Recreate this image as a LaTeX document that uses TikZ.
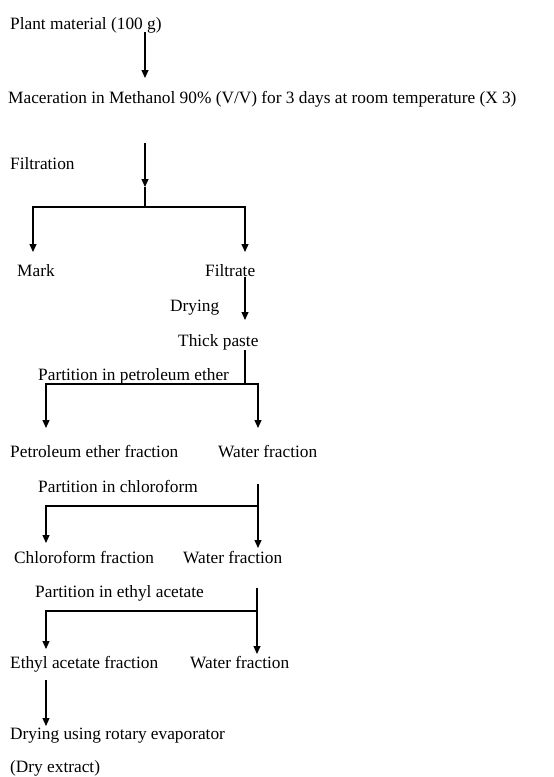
\documentclass[tikz,border=0pt]{standalone}
\usepackage{fontspec}
\setmainfont{Liberation Serif}
\usepackage{tikz}
\usetikzlibrary{positioning, arrows.meta, calc}

\tikzset{
  lbl/.style={anchor=base west, inner sep=0pt, font=\fontsize{17.3}{20}\selectfont},
  flow/.style={line width=1.1pt, -{Triangle[length=8pt,width=7pt]}},
  link/.style={line width=1.1pt}
}

\begin{document}
\begin{tikzpicture}[x=1pt, y=-1pt]
\useasboundingbox (0,0) rectangle (554,777);
% steps
\node[lbl](plant) at (10,29){Plant material (100 g)};
\node[lbl](macer) at (8,103){Maceration in Methanol 90\% (V/V) for 3 days at room temperature (X 3)};
\node[lbl](filtr) at (10,169){Filtration};
\node[lbl](mark) at (17,276){Mark};
\node[lbl](filtrate) at (205,276){Filtrate};
\node[lbl](drying) at (170,311){Drying};
\node[lbl](paste) at (178,346){Thick paste};
\node[lbl](petpart) at (38,380){Partition in petroleum ether};
\node[lbl](petfrac) at (10,457){Petroleum ether fraction};
\node[lbl](water1) at (218,457){Water fraction};
\node[lbl](chlpart) at (38,492){Partition in chloroform};
\node[lbl](chlfrac) at (14,563){Chloroform fraction};
\node[lbl](water2) at (183,563){Water fraction};
\node[lbl](ethpart) at (35,597){Partition in ethyl acetate};
\node[lbl](ethfrac) at (10,668){Ethyl acetate fraction};
\node[lbl](water3) at (190,668){Water fraction};
\node[lbl](rotary) at (10,739){Drying using rotary evaporator};
\node[lbl](dry) at (10,772){(Dry extract)};
% junction points
\coordinate (a1) at (145,32);
\coordinate (a2) at (145,78);
\coordinate (f1) at (145,143);
\coordinate (f2) at (145,187);
\coordinate (fsplit) at (145,207);
\coordinate (markin) at (33,252);
\coordinate (filtin) at (245,252);
\coordinate (d1) at (245,277);
\coordinate (d2) at (245,320);
\coordinate (p1) at (245,350);
\coordinate (psplit) at (245,384);
\coordinate (petin) at (46,428);
\coordinate (w1in) at (258,428);
\coordinate (c1) at (258,484);
\coordinate (csplit) at (258,506);
\coordinate (chlin) at (46,543);
\coordinate (w2in) at (258,548);
\coordinate (e1) at (257,588);
\coordinate (esplit) at (257,611);
\coordinate (ethin) at (46,649);
\coordinate (w3in) at (257,654);
\coordinate (r1) at (46,680);
\coordinate (rotin) at (46,726);
% connectors
\draw[flow] (a1) -- (a2);
\draw[flow] (f1) -- (f2);
\draw[link] (f2) -- (fsplit);
\draw[flow] (fsplit) -| (markin);
\draw[flow] (fsplit) -| (filtin);
\draw[flow] (d1) -- (d2);
\draw[link] (p1) -- (psplit);
\draw[flow] (psplit) -| (petin);
\draw[flow] (psplit) -| (w1in);
\draw[flow] (c1) -- (w2in);
\draw[flow] (csplit) -| (chlin);
\draw[flow] (e1) -- (w3in);
\draw[flow] (esplit) -| (ethin);
\draw[flow] (r1) -- (rotin);
\end{tikzpicture}
\end{document}
